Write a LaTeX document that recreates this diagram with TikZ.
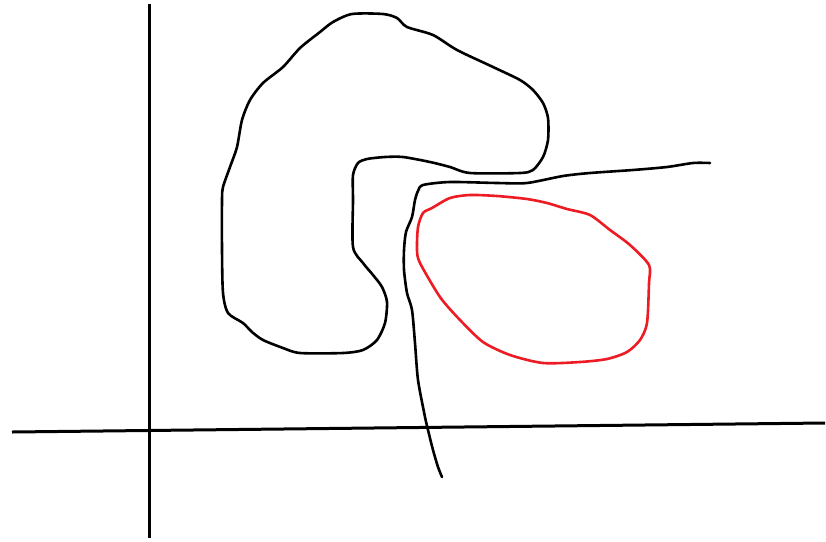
\documentclass[tikz,border=0pt]{standalone}
\definecolor{paintred}{HTML}{ED1C24}
\begin{document}
\begin{tikzpicture}[x=1pt,y=-1pt,
  axis/.style={line width=3pt,black},
  sketch/.style={line width=2.6pt,black,line join=round,line cap=round},
  redsketch/.style={line width=2.6pt,paintred,line join=round}]
\useasboundingbox[fill=white] (0,0) rectangle (826,541);
% axes
\draw[axis] (149,4) -- (149,538);
\draw[axis] (12,432) -- (825,423);
% black C-shaped blob
\draw[sketch] plot[smooth cycle,tension=0.45] coordinates {
 (352,14) (383,14) (397,18) (407,27) (433,35) (457,50) (493,67) (520,80) (533,90) (543,103)
 (548,118) (548,140) (543,157) (533,170) (520,173) (470,173) (450,167) (430,162) (403,157)
 (385,157) (367,159) (358,163) (353,175) (353,200) (353,247) (363,263) (373,275) (382,287)
 (387,302) (385,323) (377,340) (363,350) (343,353) (300,353) (283,348) (263,340) (252,332)
 (243,323) (228,313) (223,293) (222,250) (222,200) (223,187) (230,167) (237,147) (242,120)
 (250,100) (263,83) (283,67) (300,48) (320,32) (333,22)};
% open curve
\draw[sketch] plot[smooth,tension=0.45] coordinates {
 (710,163) (693,163) (667,167) (633,170) (590,173) (563,176) (527,183) (497,183) (450,182)
 (423,185) (418,191) (415,200) (412,217) (406,232) (404,250) (404,270) (407,293) (412,310)
 (415,343) (418,380) (425,417) (428,430) (433,450) (438,467) (442,477)};
% red blob
\draw[redsketch] plot[smooth cycle,tension=0.45] coordinates {
 (450,198) (470,195) (497,196) (527,199) (547,203) (567,209) (590,215) (610,230) (630,245)
 (649,265) (649,283) (647,323) (640,340) (627,352) (607,359) (580,362) (543,363) (510,355)
 (483,342) (460,320) (440,297) (420,263) (417,250) (418,227) (423,213) (432,208)};
\end{tikzpicture}
\end{document}
